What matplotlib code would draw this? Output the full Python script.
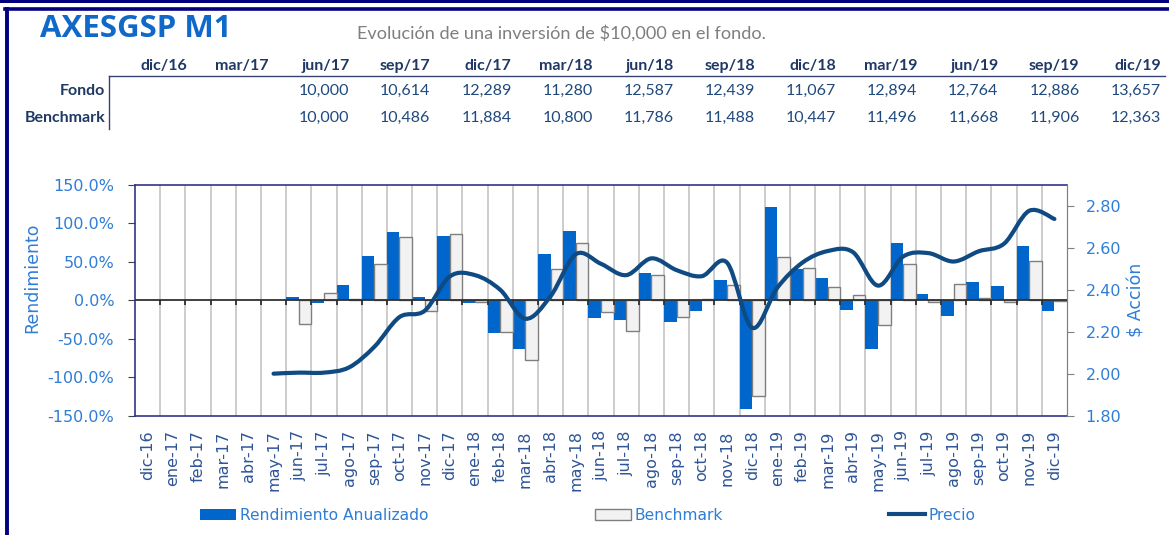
import numpy as np
import matplotlib
matplotlib.use("Agg")
import matplotlib.pyplot as plt
from matplotlib.lines import Line2D
from matplotlib.patches import Patch, Rectangle, PathPatch
from matplotlib.path import Path

# Data
MESES = ["dic-16", "ene-17", "feb-17", "mar-17", "abr-17", "may-17", "jun-17", "jul-17",
         "ago-17", "sep-17", "oct-17", "nov-17", "dic-17", "ene-18", "feb-18", "mar-18",
         "abr-18", "may-18", "jun-18", "jul-18", "ago-18", "sep-18", "oct-18", "nov-18",
         "dic-18", "ene-19", "feb-19", "mar-19", "abr-19", "may-19", "jun-19", "jul-19",
         "ago-19", "sep-19", "oct-19", "nov-19", "dic-19"]

NAN = np.nan
REND_FONDO = [NAN, NAN, NAN, NAN, NAN, NAN, 4, -3.5, 20, 58, 89.5, 4.3, 84, -4, -42, -64,
              60, 89.6, -23, -25, 36, -28, -14.4, 27, -141, 121, 41, 28.7, -12, -64, 74,
              7.8, -21, 23.5, 18, 70, -14]
REND_BENCH = [NAN, NAN, NAN, NAN, NAN, NAN, -31, 9.5, 2, 47, 82, -13.5, 86, -1.7, -41, -78,
              41, 75, -15, -40, 33.5, -22, 2, 19.6, -125, 56, 42.6, 17.8, 7.4, -32.6, 47,
              -2, 21, 3, -2, 51, -1.5]
PRECIO = [NAN, NAN, NAN, NAN, NAN, 2.00, 2.005, 2.005, 2.03, 2.128, 2.27, 2.30, 2.464, 2.47,
          2.40, 2.262, 2.37, 2.57, 2.524, 2.47, 2.55, 2.494, 2.465, 2.53, 2.219, 2.41, 2.53,
          2.585, 2.58, 2.42, 2.559, 2.575, 2.535, 2.584, 2.62, 2.777, 2.738]

TRIMESTRES = ["dic/16", "mar/17", "jun/17", "sep/17", "dic/17", "mar/18", "jun/18",
              "sep/18", "dic/18", "mar/19", "jun/19", "sep/19", "dic/19"]
FONDO = [None, None, 10000, 10614, 12289, 11280, 12587, 12439, 11067, 12894, 12764, 12886, 13657]
BENCHMARK = [None, None, 10000, 10486, 11884, 10800, 11786, 11488, 10447, 11496, 11668, 11906, 12363]

# Styles
W, H = 1169, 535
AZUL_BARRA = "#0066CC"
GRIS_BARRA = "#F2F2F2"
AZUL_LINEA = "#0F4A82"
AZUL_TEXTO = "#2E7DD7"
NAVY = "#1F3864"
MARCO = "#000080"


def px(x, y):
    # pixel position (from top-left) -> figure fraction
    return x / W, 1 - y / H


def smooth_path(xs, ys):
    # Excel-like smoothed line: Catmull-Rom segments as cubic Bezier curves
    pts = np.column_stack([xs, ys])
    verts = [pts[0]]
    codes = [Path.MOVETO]
    n = len(pts)
    for k in range(n - 1):
        p0 = pts[k - 1] if k > 0 else pts[k]
        p1, p2 = pts[k], pts[k + 1]
        p3 = pts[k + 2] if k + 2 < n else pts[k + 1]
        verts += [p1 + (p2 - p0) / 6, p2 - (p3 - p1) / 6, p2]
        codes += [Path.CURVE4] * 3
    return Path(verts, codes)


def main():
    fig = plt.figure(figsize=(W / 100, H / 100), dpi=100)

    # Frame lines
    fig.add_artist(Rectangle(px(0, 3), 1, 3 / H, transform=fig.transFigure,
                             color=MARCO, lw=0))
    fig.add_artist(Line2D([px(5, 0)[0], 1], [px(0, 9)[1]] * 2, transform=fig.transFigure,
                          color=MARCO, lw=2.6))
    fig.add_artist(Line2D([px(7, 0)[0]] * 2, [px(0, 9)[1], 0], transform=fig.transFigure,
                          color=MARCO, lw=2.8))

    # Header
    fig.text(*px(40, 29), "AXESGSP M1", fontsize=22.5, fontweight="bold",
             family="Open Sans", color="#1068C8", ha="left", va="center")
    fig.text(*px(357, 33), "Evolución de una inversión de $10,000 en el fondo.",
             fontsize=13.1, family="Lato", color="#7F7F7F", ha="left", va="center")

    # Table
    for k, t in enumerate(TRIMESTRES):
        xr = 187 + 81.15 * k
        fig.text(*px(xr, 66), t, fontsize=11.5, fontweight="bold", family="Lato",
                 color=NAVY, ha="right", va="center")
        for val, yy in ((FONDO[k], 91), (BENCHMARK[k], 117.5)):
            if val is not None:
                fig.text(*px(xr, yy), f"{val:,}", fontsize=11.5, family="Lato",
                         color="#1F497D", ha="right", va="center")
    for lab, yy in (("Fondo", 91), ("Benchmark", 117.5)):
        fig.text(*px(105, yy), lab, fontsize=11.5, fontweight="bold", family="Lato",
                 color=NAVY, ha="right", va="center")
    fig.add_artist(Line2D([px(109, 0)[0], px(1165, 0)[0]], [px(0, 76.5)[1]] * 2,
                          transform=fig.transFigure, color="#34446E", lw=1))
    fig.add_artist(Line2D([px(109, 0)[0]] * 2, [px(0, 76.5)[1], px(0, 129)[1]],
                          transform=fig.transFigure, color="#34446E", lw=1))

    # Chart
    ax = fig.add_axes([135 / W, 1 - 415.6 / H, 932 / W, 230.6 / H])
    x = np.arange(len(MESES))
    ax.bar(x - 0.25, REND_FONDO, width=0.5, color=AZUL_BARRA, zorder=3)
    ax.bar(x + 0.25, REND_BENCH, width=0.5, color=GRIS_BARRA, edgecolor="#7F7F7F",
           linewidth=1, zorder=3)
    ax.set_xlim(-0.5, len(MESES) - 0.5)
    ax.set_ylim(-150, 150)
    ax.set_yticks(np.arange(-150, 151, 50))
    ax.set_yticklabels([f"{v:.1f}%" for v in np.arange(-150, 151, 50)])
    ax.set_xticks(x)
    ax.set_xticklabels(MESES, rotation=90)
    bounds = np.arange(0.5, len(MESES) - 0.5, 1)
    ax.set_xticks(bounds, minor=True)
    ax.grid(which="minor", axis="x", color="#C8C8C8", lw=1.3, zorder=0)
    ax.set_axisbelow(True)
    ax.tick_params(axis="x", which="both", length=0, pad=10.5, labelsize=11.5,
                   labelcolor="#2F5597")
    ax.tick_params(axis="y", direction="out", length=5, pad=10, labelsize=11.5,
                   labelcolor=AZUL_TEXTO, color="#404040")
    ax.axhline(0, color="#303030", lw=1.3, zorder=4)
    ax.vlines(bounds, -6, 0, color="#303030", lw=1.3, zorder=4)
    for s in ("top", "bottom", "left"):
        ax.spines[s].set_color("#33338C")
        ax.spines[s].set_linewidth(1.2)
    ax.spines["right"].set_color("#808080")

    ax2 = ax.twinx()
    ax2.set_ylim(1.80, 2.90)
    ax2.set_yticks(np.arange(1.80, 2.81, 0.20))
    ax2.set_yticklabels([f"{v:.2f}" for v in np.arange(1.80, 2.81, 0.20)])
    ax2.tick_params(axis="y", direction="out", length=5, pad=8.5, labelsize=11.5,
                    labelcolor=AZUL_TEXTO, color="#808080")
    for s in ("top", "bottom", "left"):
        ax2.spines[s].set_visible(False)
    ax2.spines["right"].set_color("#808080")
    precio = np.array(PRECIO, dtype=float)
    ok = ~np.isnan(precio)
    ax2.add_patch(PathPatch(smooth_path(x[ok], precio[ok]), facecolor="none",
                            edgecolor=AZUL_LINEA, lw=3, capstyle="round", zorder=5))

    fig.text(*px(32, 278), "Rendimiento", rotation=90, fontsize=12.5, color=AZUL_TEXTO,
             ha="center", va="center")
    fig.text(*px(1137, 300), "$ Acción", rotation=90, fontsize=12.5, color=AZUL_TEXTO,
             ha="center", va="center")

    # Legend
    handles = [Patch(facecolor=AZUL_BARRA),
               Patch(facecolor=GRIS_BARRA, edgecolor="#7F7F7F"),
               Line2D([], [], color=AZUL_LINEA, lw=3)]
    leg = fig.legend(handles, ["Rendimiento Anualizado", "Benchmark", "Precio"],
                     loc="center", bbox_to_anchor=px(588, 515), ncol=3, frameon=False,
                     fontsize=11.2, handlelength=2.3, handletextpad=0.25,
                     columnspacing=10.7, borderaxespad=0)
    for t in leg.get_texts():
        t.set_color(AZUL_TEXTO)

    fig.savefig("out.png", dpi=100)


if __name__ == "__main__":
    main()
